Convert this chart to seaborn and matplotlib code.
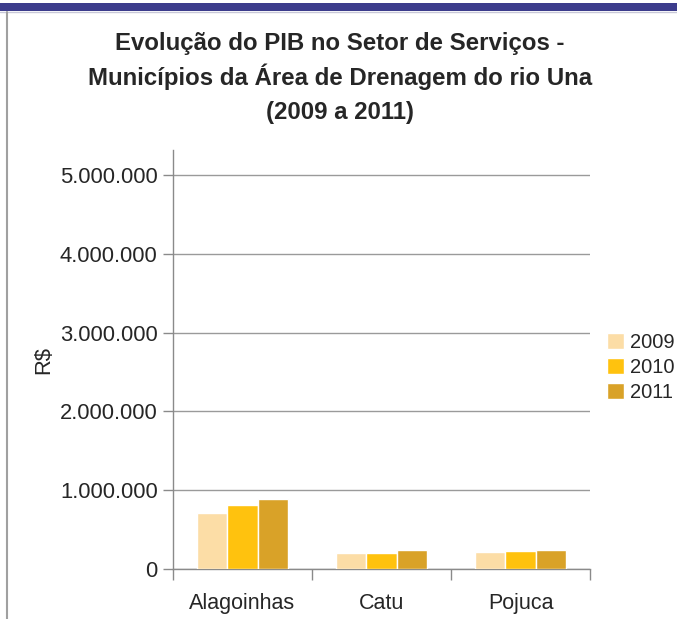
import matplotlib
matplotlib.use("Agg")
import matplotlib.pyplot as plt
import pandas as pd
import seaborn as sns
from matplotlib.lines import Line2D
from matplotlib.patches import Rectangle

# data
municipios = ["Alagoinhas", "Catu", "Pojuca"]
anos = ["2009", "2010", "2011"]
pib_2009 = [710000, 207000, 220000]
pib_2010 = [815000, 207000, 232000]
pib_2011 = [890000, 240000, 240000]
yticks = [0, 1000000, 2000000, 3000000, 4000000, 5000000]
ytick_labels = ["0", "1.000.000", "2.000.000", "3.000.000", "4.000.000", "5.000.000"]
cores = ["#FCDDA6", "#FFC20E", "#D9A228"]
titulo = ["Evolução do PIB no Setor de Serviços -",
          "Municípios da Área de Drenagem do rio Una",
          "(2009 a 2011)"]

df = pd.DataFrame({
    "Municipio": municipios * 3,
    "Ano": [a for a in anos for _ in municipios],
    "PIB": pib_2009 + pib_2010 + pib_2011,
})

sns.set_theme(style="white")
plt.rcParams["font.family"] = ["Liberation Sans", "DejaVu Sans"]

fig = plt.figure(figsize=(6.77, 6.19), dpi=100)
ax = fig.add_axes([173 / 677, 50 / 619, 417 / 677, 419 / 619])

sns.barplot(data=df, x="Municipio", y="PIB", hue="Ano", palette=cores,
            width=0.66, gap=0, saturation=1, ax=ax, zorder=3)

ax.set_ylim(0, 5320000)
ax.set_xlim(-0.5, 2.5)
ax.set_yticks(yticks)
ax.set_yticklabels(ytick_labels, fontsize=15.8)
ax.yaxis.grid(True, color="#9a9a9a", linewidth=1, zorder=0)
ax.set_xlabel("")
ax.set_ylabel("R$", fontsize=15.8, labelpad=4)
ax.tick_params(axis="x", length=0, labelsize=15.5, pad=17)
ax.tick_params(axis="y", which="major", length=7, width=1, color="#8a8a8a",
               direction="out", left=True, pad=4)
ax.set_xticks([-0.5, 0.5, 1.5, 2.5], minor=True)
ax.tick_params(axis="x", which="minor", length=8, width=1, color="#8a8a8a",
               direction="out", bottom=True)
for s in ["top", "right"]:
    ax.spines[s].set_visible(False)
for s in ["left", "bottom"]:
    ax.spines[s].set_color("#8a8a8a")
    ax.spines[s].set_linewidth(1)

leg = ax.legend(loc="center left", bbox_to_anchor=(1.04, 0.481), frameon=False,
                fontsize=14.5, handlelength=0.85, handleheight=0.85,
                handletextpad=0.3, labelspacing=0.28, borderpad=0,
                borderaxespad=0)

# title lines placed one by one so the spacing stays even
for i, linha in enumerate(titulo):
    fig.text(0.502, 1 - (50 + 34.5 * i) / 619, linha, ha="center",
             va="baseline", fontsize=17.3, fontweight="bold")

# slide frame
fig.patches.append(Rectangle((0, 1 - 11 / 619), 1, 8 / 619, transform=fig.transFigure,
                             facecolor="#3C3C8C", edgecolor="none"))
fig.lines.append(Line2D([0, 1], [1 - 12 / 619] * 2, transform=fig.transFigure,
                        color="#c8c8d8", linewidth=1))
fig.lines.append(Line2D([7 / 677] * 2, [0, 1 - 12 / 619], transform=fig.transFigure,
                        color="#a0a0a0", linewidth=1.5))

fig.savefig("out.png", dpi=100)
